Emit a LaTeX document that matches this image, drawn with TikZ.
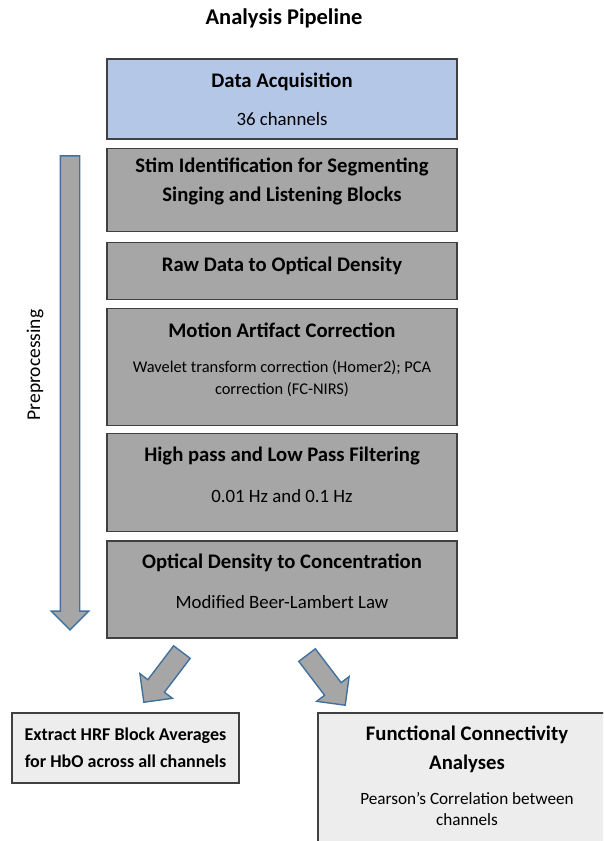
\documentclass[tikz,border=0pt]{standalone}
\usepackage{fontspec}
\setmainfont{Carlito}
\usetikzlibrary{positioning,shapes.arrows}

\definecolor{acqblue}{HTML}{B4C7E7}
\definecolor{stepgray}{HTML}{A6A6A6}
\definecolor{resultgray}{HTML}{EDEDED}
\definecolor{arrowline}{HTML}{41719C}

\begin{document}
\begin{tikzpicture}[x=1pt, y=1pt,
    box/.style = {draw=black!75, line width=1.2pt, fill=stepgray, minimum width=350pt, inner sep=0pt},
    headtext/.style = {font=\fontsize{20.7}{29}\selectfont\bfseries, align=center, inner sep=0pt},
    subtext/.style = {font=\fontsize{18.8}{22}\selectfont, align=center, inner sep=0pt},
    bigarrow/.style = {single arrow, draw=arrowline, line width=1.4pt, fill=stepgray, inner xsep=0pt, single arrow tip angle=90}]
    \useasboundingbox (0,0) rectangle (603,-841);

    \node[headtext, font=\fontsize{22.5}{27}\selectfont\bfseries] (pipe) at (284,-18) {Analysis Pipeline};

    % pipeline blocks, top to bottom
    \node[box, fill=acqblue, minimum height=80pt] (acq) at (282,-99) {};
    \node[box, minimum height=83pt] (stim) [below=8pt of acq] {};
    \node[box, minimum height=57pt] (raw) [below=10pt of stim] {};
    \node[box, minimum height=117pt] (motion) [below=8pt of raw] {};
    \node[box, minimum height=98pt] (filter) [below=7pt of motion] {};
    \node[box, minimum height=97pt] (conc) [below=8pt of filter] {};

    \node[headtext] at ([yshift=-23pt]acq.north) {Data Acquisition};
    \node[subtext] at ([yshift=-61pt]acq.north) {36 channels};
    \node[headtext] at ([yshift=-34pt]stim.north) {Stim Identification for Segmenting\\Singing and Listening Blocks};
    \node[headtext] at ([yshift=-24pt]raw.north) {Raw Data to Optical Density};
    \node[headtext] at ([yshift=-22pt]motion.north) {Motion Artifact Correction};
    \node[subtext, font=\fontsize{16.4}{22}\selectfont] at ([yshift=-71pt]motion.north) {Wavelet transform correction (Homer2); PCA\\correction (FC-NIRS)};
    \node[headtext] at ([yshift=-23pt]filter.north) {High pass and Low Pass Filtering};
    \node[subtext] at ([yshift=-63pt]filter.north) {0.01 Hz and 0.1 Hz};
    \node[headtext] at ([yshift=-22pt]conc.north) {Optical Density to Concentration};
    \node[subtext] at ([yshift=-62pt]conc.north) {Modified Beer-Lambert Law};

    % preprocessing span
    \node[bigarrow, rotate=-90, inner ysep=9pt, minimum height=474pt, single arrow head extend=9pt] (prep) at (70,-388) {};
    \node[subtext, font=\fontsize{19.5}{22}\selectfont, rotate=90] at (35,-365) {Preprocessing};

    % outputs
    \node[bigarrow, rotate=232.8, inner ysep=9.7pt, minimum height=63pt, single arrow head extend=10pt] (toavg) at (166,-673) {};
    \node[bigarrow, rotate=-52.7, inner ysep=9.7pt, minimum height=63pt, single arrow head extend=10pt] (tofc) at (323,-676) {};

    \node[box, fill=resultgray, minimum width=227pt, minimum height=70pt, headtext, font=\fontsize{18}{27}\selectfont\bfseries] (avg) at (125.5,-748) {Extract HRF Block Averages\\for HbO across all channels};
    \begin{scope}
        \clip (0,0) rectangle (603,-841);
        \node[box, fill=resultgray, minimum width=298pt, minimum height=147pt] (fc) at (467,-786.5) {};
    \end{scope}
    \node[headtext] at ([yshift=-37pt]fc.north) {Functional Connectivity\\Analyses};
    \node[subtext, font=\fontsize{17.2}{21}\selectfont] at ([yshift=-97pt]fc.north) {Pearson’s Correlation between\\channels};
\end{tikzpicture}
\end{document}
